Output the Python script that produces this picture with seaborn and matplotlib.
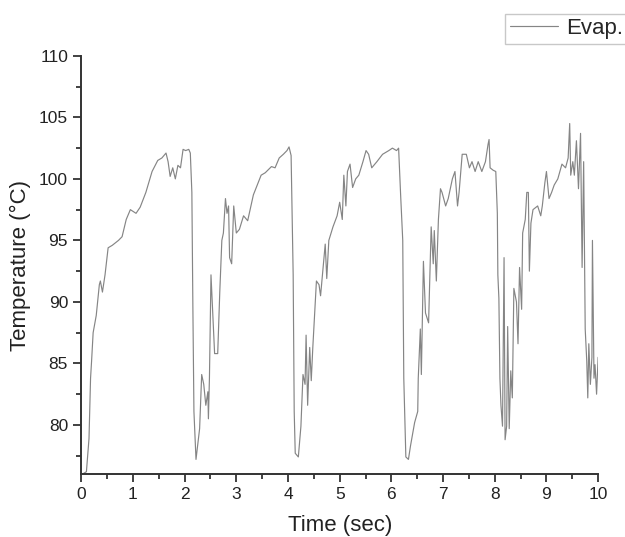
import matplotlib
matplotlib.use('Agg')
import matplotlib.pyplot as plt
import seaborn as sns
import pandas as pd
from matplotlib.ticker import MultipleLocator

# values (time in sec, temperature in degC)
time_sec = [0.02, 0.1, 0.15, 0.18, 0.2, 0.23, 0.29, 0.35, 0.37, 0.41, 0.46, 0.52, 0.6, 0.72, 0.79,
            0.87, 0.95, 1.06, 1.14, 1.25, 1.37, 1.48, 1.56, 1.64, 1.68, 1.72, 1.77, 1.82, 1.87, 1.92,
            1.97, 2.02, 2.08, 2.11, 2.14, 2.16, 2.18, 2.22, 2.25, 2.29, 2.33, 2.37, 2.41, 2.45, 2.46,
            2.48, 2.51, 2.54, 2.58, 2.64, 2.68, 2.72, 2.75, 2.79, 2.82, 2.85, 2.87, 2.91, 2.95, 3.0,
            3.06, 3.14, 3.22, 3.33, 3.48, 3.56, 3.68, 3.75, 3.83, 3.91, 3.98, 4.02, 4.06, 4.1, 4.12,
            4.14, 4.2, 4.25, 4.29, 4.33, 4.35, 4.38, 4.42, 4.45, 4.48, 4.52, 4.55, 4.6, 4.63, 4.69,
            4.72, 4.75, 4.79, 4.87, 4.95, 5.0, 5.05, 5.08, 5.12, 5.15, 5.2, 5.25, 5.31, 5.37, 5.45,
            5.51, 5.56, 5.62, 5.72, 5.83, 5.95, 6.02, 6.1, 6.14, 6.18, 6.22, 6.24, 6.28, 6.33, 6.37,
            6.45, 6.51, 6.52, 6.56, 6.58, 6.62, 6.66, 6.72, 6.77, 6.81, 6.83, 6.87, 6.91, 6.95, 6.98,
            7.05, 7.1, 7.18, 7.23, 7.28, 7.31, 7.37, 7.45, 7.51, 7.56, 7.62, 7.68, 7.75, 7.82, 7.87,
            7.89, 7.91, 7.97, 8.02, 8.05, 8.06, 8.08, 8.1, 8.12, 8.15, 8.18, 8.2, 8.23, 8.25, 8.28,
            8.31, 8.34, 8.37, 8.42, 8.45, 8.48, 8.52, 8.54, 8.59, 8.62, 8.65, 8.67, 8.7, 8.74, 8.8,
            8.83, 8.89, 8.92, 8.97, 9.0, 9.05, 9.1, 9.15, 9.22, 9.3, 9.37, 9.42, 9.45, 9.47, 9.51,
            9.54, 9.58, 9.62, 9.66, 9.69, 9.72, 9.75, 9.78, 9.8, 9.82, 9.85, 9.88, 9.89, 9.92, 9.94,
            9.97, 10.0]
temp_c = [76.0, 76.2, 78.9, 83.8, 85.2, 87.5, 88.9, 91.4, 91.7, 90.8, 92.2, 94.4, 94.6, 95.0, 95.3,
          96.7, 97.5, 97.2, 97.7, 98.9, 100.6, 101.5, 101.7, 102.1, 101.4, 100.2, 100.9, 100.0, 101.1, 100.9,
          102.4, 102.3, 102.4, 102.1, 98.9, 89.4, 81.1, 77.2, 78.3, 79.7, 84.1, 83.3, 81.6, 82.7, 80.5,
          83.8, 92.2, 89.4, 85.8, 85.8, 90.8, 95.0, 95.6, 98.4, 97.2, 97.8, 93.6, 93.1, 97.8, 95.6,
          95.9, 97.0, 96.6, 98.7, 100.3, 100.5, 101.0, 100.9, 101.7, 102.0, 102.3, 102.6, 101.9, 92.2, 81.1,
          77.7, 77.4, 79.9, 84.1, 83.3, 87.3, 81.6, 86.3, 83.6, 86.3, 89.4, 91.7, 91.4, 90.5, 93.3,
          94.7, 91.9, 95.0, 96.1, 97.0, 98.1, 96.7, 100.3, 97.8, 100.6, 101.2, 99.3, 100.0, 100.3, 101.4,
          102.3, 102.0, 100.9, 101.4, 102.0, 102.3, 102.5, 102.3, 102.5, 98.6, 95.0, 83.8, 77.4, 77.2, 78.3,
          80.2, 81.1, 83.8, 87.8, 84.1, 93.3, 89.1, 88.3, 96.1, 93.1, 95.8, 91.7, 96.7, 99.2, 98.9,
          97.8, 98.4, 100.0, 100.6, 97.8, 98.9, 102.0, 102.0, 100.9, 101.4, 100.6, 101.4, 100.6, 101.4, 102.8,
          103.2, 100.9, 100.7, 100.6, 97.2, 92.2, 90.3, 83.8, 81.6, 79.9, 93.6, 78.8, 79.9, 88.0, 79.7,
          84.4, 82.2, 91.1, 90.0, 86.6, 92.8, 89.4, 95.6, 96.7, 98.9, 98.9, 92.5, 96.4, 97.5, 97.7,
          97.8, 97.0, 97.8, 99.7, 100.6, 98.4, 98.9, 99.5, 100.0, 101.2, 100.9, 101.7, 104.5, 100.3, 101.4,
          100.3, 103.1, 99.2, 103.7, 92.8, 101.4, 87.8, 85.2, 82.2, 86.6, 83.3, 85.5, 95.0, 83.8, 84.9,
          82.5, 85.5]

series_name = 'Evap.'
x_ticks = [0, 1, 2, 3, 4, 5, 6, 7, 8, 9, 10]
y_ticks = [80, 85, 90, 95, 100, 105, 110]

df = pd.DataFrame({'Time': time_sec, 'Temp': temp_c})

sns.set_style('ticks')
plt.rcParams['font.family'] = ['Liberation Sans', 'DejaVu Sans']

fig = plt.figure(figsize=(6.25, 5.37), dpi=100)
ax = fig.add_axes([0.13, 0.117, 0.827, 0.779])

sns.lineplot(data=df, x='Time', y='Temp', ax=ax, color='#858585', linewidth=0.85,
             label=series_name, legend=False, estimator=None, sort=False)

ax.set_xlim(0, 10)
ax.set_ylim(76, 110)
ax.set_xticks(x_ticks)
ax.set_yticks(y_ticks)
ax.xaxis.set_minor_locator(MultipleLocator(0.5))
ax.yaxis.set_minor_locator(MultipleLocator(2.5))
ax.tick_params(which='major', direction='out', length=6, width=1.3, colors='#333333',
               labelsize=12.5, labelcolor='#222222')
ax.tick_params(which='minor', direction='out', length=3.5, width=1.3, colors='#333333')
for s in ['top', 'right']:
    ax.spines[s].set_visible(False)
for s in ['left', 'bottom']:
    ax.spines[s].set_linewidth(1.4)
    ax.spines[s].set_color('#333333')

ax.set_xlabel('Time (sec)', fontsize=16, color='#222222', labelpad=9)
ax.set_ylabel('Temperature (°C)', fontsize=16, color='#222222', labelpad=6)

leg = fig.legend(handles=ax.get_lines(), labels=[series_name], loc='upper right',
                 bbox_to_anchor=(1.022, 0.995), fontsize=16, frameon=True, fancybox=False,
                 edgecolor='#bbbbbb', handlelength=2.2, borderpad=0.2, handletextpad=0.35)
leg.get_frame().set_linewidth(1.0)

fig.savefig('out.png', dpi=100)
